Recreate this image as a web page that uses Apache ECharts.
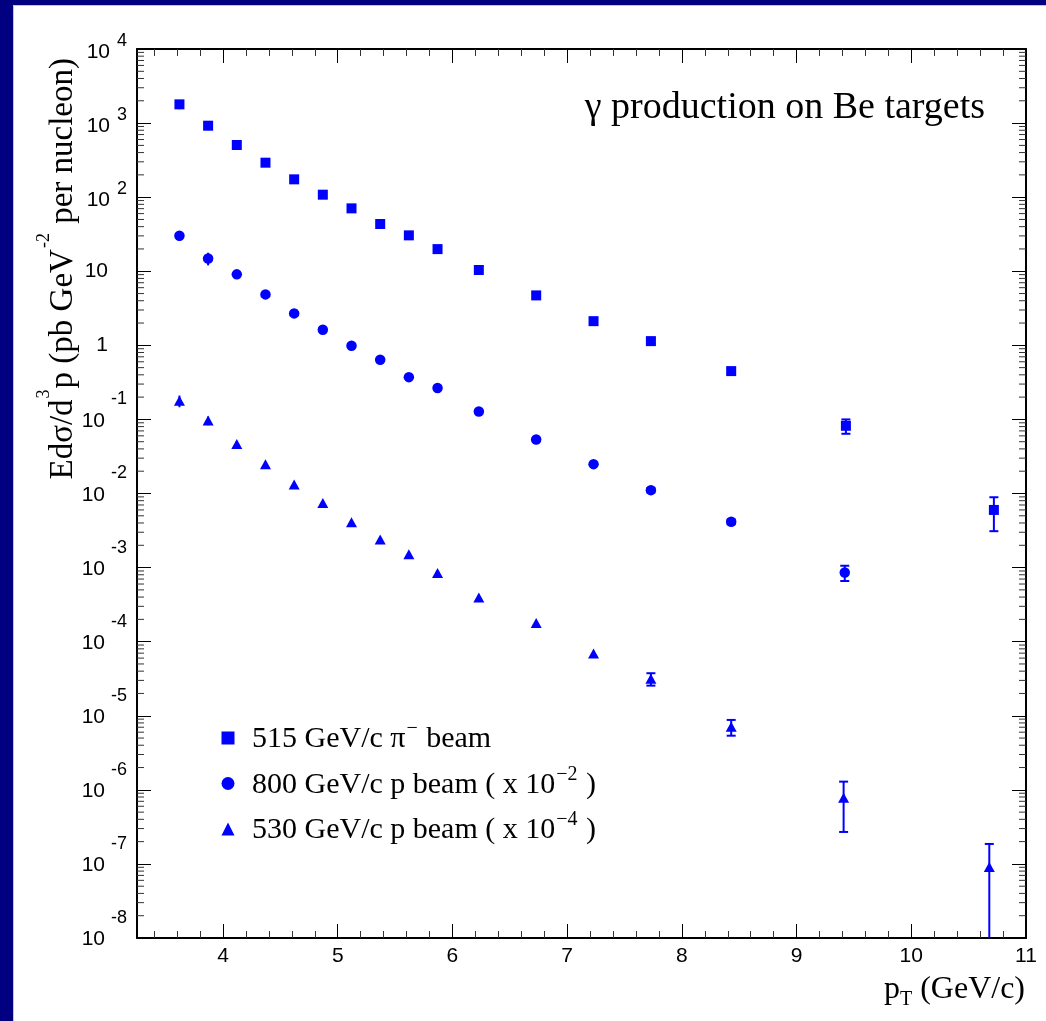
<!DOCTYPE html>
<html>
<head>
<meta charset="utf-8">
<title>γ production on Be targets</title>
<script src="https://cdn.jsdelivr.net/npm/echarts@6.0.0/dist/echarts.min.js"></script>
<style>
  html, body { margin: 0; padding: 0; width: 1046px; height: 1021px; overflow: hidden; background: #000080; }
  #frame { position: absolute; left: 13px; top: 5px; width: 1033px; height: 1016px; background: #c4c4e2; }
  #chart { position: absolute; left: 14px; top: 6px; width: 1032px; height: 1015px; background: #ffffff; }
</style>
</head>
<body>
<div id="frame"></div>
<div id="chart"></div>
<script>
// ---- measured points: pT (GeV/c), invariant cross section, symmetric error ----
const ptShared = [3.62, 3.87, 4.12, 4.37, 4.62, 4.87, 5.12, 5.37, 5.62, 5.87, 6.23, 6.73, 7.23, 7.73, 8.43];
const ptPiMinus515 = ptShared.concat([9.43, 10.72]);
const ptP800 = ptShared.concat([9.42]);
const ptP530 = ptShared.concat([9.41, 10.68]);

const xsecPiMinus515 = [1790, 922, 506, 292, 174, 108, 70.6, 43.4, 30.5, 19.9, 10.4, 4.72, 2.12, 1.14, 0.449, 0.082, 0.0060];
const errPiMinus515 = [250, 120, 60, 30, 15, 9, 5.5, 3.5, 2.4, 1.5, 0.8, 0.35, 0.16, 0.09, 0.035, 0.018, 0.0029];

const xsecP800 = [30.1, 14.9, 9.08, 4.87, 2.70, 1.62, 0.986, 0.638, 0.372, 0.265, 0.128, 0.0537, 0.0249, 0.0111, 0.00415, 0.000859];
const errP800 = [4.2, 2.9, 1.0, 0.45, 0.22, 0.12, 0.07, 0.045, 0.027, 0.018, 0.009, 0.004, 0.0018, 0.0008, 0.0003, 0.0002];

const xsecP530 = [0.178, 0.0964, 0.0467, 0.0248, 0.0132, 0.00745, 0.0041, 0.0024, 0.00151, 0.000845, 0.000395, 0.000179, 6.92e-5, 3.15e-5, 7.08e-6, 7.8e-7, 9.1e-8];
const errP530 = [0.032, 0.013, 0.004, 0.0018, 0.0009, 0.0005, 0.00028, 0.00016, 0.0001, 0.00006, 0.00003, 0.000012, 5e-6, 6e-6, 1.7e-6, 5.1e-7, 9.5e-8];

const beamLabels = ['515 GeV/c π⁻ beam', '800 GeV/c p beam ( x 10⁻² )', '530 GeV/c p beam ( x 10⁻⁴ )'];
const ptRange = [3.25, 11];        // horizontal axis limits
const decadeRange = [-8, 4];       // vertical axis limits, powers of ten

// ---- styling ----
const BLUE = '#0000ff';
const SANS = '"Liberation Sans", Arial, Helvetica, sans-serif';
const SERIF = '"Liberation Serif", "Times New Roman", Times, serif';
const CAP_FROM_PT = 7.5;           // end caps are drawn on the high-pT error bars

const chart = echarts.init(document.getElementById('chart'), null, { renderer: 'canvas' });

// minor tick values of the log axis: 2..9 x 10^d
const minorTickValues = [];
for (let d = decadeRange[0]; d < decadeRange[1]; d++) {
  for (let k = 2; k <= 9; k++) minorTickValues.push(Number((k * Math.pow(10, d)).toPrecision(3)));
}

function errorBarRenderer(params, api) {
  const cs = params.coordSys;
  const x = api.value(0), v = api.value(1), e = api.value(2);
  const top = cs.y, bottom = cs.y + cs.height;
  const c = api.coord([x, v]);
  const hiY = Math.max(api.coord([x, v + e])[1], top);
  const lo = v - e;
  const loY = lo > 0 ? Math.min(api.coord([x, lo])[1], bottom) : bottom;
  const st = { stroke: BLUE, lineWidth: 2 };
  const children = [{ type: 'line', shape: { x1: c[0], y1: hiY, x2: c[0], y2: loY }, style: st }];
  if (x >= CAP_FROM_PT) {
    if (hiY > top) children.push({ type: 'line', shape: { x1: c[0] - 4.5, y1: hiY, x2: c[0] + 4.5, y2: hiY }, style: st });
    if (loY < bottom) children.push({ type: 'line', shape: { x1: c[0] - 4.5, y1: loY, x2: c[0] + 4.5, y2: loY }, style: st });
  }
  return { type: 'group', children: children };
}

function minorTickRenderer(params, api) {
  const cs = params.coordSys;
  const y = api.coord([ptRange[0], api.value(0)])[1];
  const st = { stroke: '#333', lineWidth: 1 };
  return {
    type: 'group',
    children: [
      { type: 'line', shape: { x1: cs.x, y1: y, x2: cs.x + 7, y2: y }, style: st },
      { type: 'line', shape: { x1: cs.x + cs.width - 7, y1: y, x2: cs.x + cs.width, y2: y }, style: st }
    ]
  };
}

// legend text with superscripts as rich text
function legendRich(label) {
  return '{g|}' + label.split(/([⁻²⁴]+)/).map(function (part, i) {
    if (!part) return '';
    if (i % 2) return '{s|' + part.replace('⁻', '−').replace('²', '2').replace('⁴', '4') + '}';
    return '{n|' + part + '}';
  }).join('');
}

function decadeLabel(n) {
  if (n === 0) return '{p|1}';
  if (n === 1) return '{p|10}';
  return n < 0 ? '{bn|10}{en|' + n + '}' : '{bp|10}{ep|' + n + '}';
}

const sets = [
  { name: beamLabels[0], pt: ptPiMinus515, y: xsecPiMinus515, err: errPiMinus515, symbol: 'rect', size: 10 },
  { name: beamLabels[1], pt: ptP800, y: xsecP800, err: errP800, symbol: 'circle', size: 10.5 },
  { name: beamLabels[2], pt: ptP530, y: xsecP530, err: errP530, symbol: 'triangle', size: [11, 10] }
];

const series = [{
  type: 'custom', name: 'minor ticks', xAxisIndex: 0, yAxisIndex: 0,
  data: minorTickValues.map(function (v) { return [v]; }),
  encode: { y: 0 }, renderItem: minorTickRenderer, silent: true, z: 5, clip: false
}];
sets.forEach(function (s) {
  series.push({
    type: 'custom', name: s.name + ' errors', xAxisIndex: 0, yAxisIndex: 0,
    data: s.pt.map(function (x, i) { return [x, s.y[i], s.err[i]]; }),
    encode: { x: 0, y: 1 }, renderItem: errorBarRenderer, silent: true, z: 2, clip: false
  });
  series.push({
    type: 'scatter', name: s.name, xAxisIndex: 0, yAxisIndex: 0,
    data: s.pt.map(function (x, i) { return [x, s.y[i]]; }),
    symbol: s.symbol, symbolSize: s.size,
    itemStyle: { color: BLUE, opacity: 1 }, z: 3, silent: true
  });
});

const xAxisCommon = {
  type: 'value', min: ptRange[0], max: ptRange[1], splitNumber: 8,
  axisLine: { show: true, onZero: false, lineStyle: { color: '#000', width: 2 } },
  axisTick: { show: true, inside: true, length: 14, lineStyle: { color: '#000', width: 1 } },
  minorTick: { show: true, splitNumber: 5, length: 7, lineStyle: { color: '#333', width: 1 } },
  splitLine: { show: false }, minorSplitLine: { show: false }
};
const yDecadeCommon = {
  type: 'value', min: decadeRange[0], max: decadeRange[1], interval: 1,
  axisLine: { show: true, onZero: false, lineStyle: { color: '#000', width: 2 } },
  axisTick: { show: true, inside: true, length: 14, lineStyle: { color: '#000', width: 1 } },
  splitLine: { show: false }
};

const option = {
  animation: false,
  backgroundColor: '#ffffff',
  grid: { left: 123, top: 43, width: 889, height: 889, containLabel: false },
  xAxis: [
    Object.assign({}, xAxisCommon, {
      position: 'bottom',
      axisLabel: {
        show: true, margin: 8, color: '#000', fontFamily: SANS, fontSize: 21,
        showMinLabel: false,
        formatter: function (v) { return Number.isInteger(v) ? String(v) : ''; }
      }
    }),
    Object.assign({}, xAxisCommon, { position: 'top', axisLabel: { show: false } })
  ],
  yAxis: [
    { type: 'log', logBase: 10, min: Math.pow(10, decadeRange[0]), max: Math.pow(10, decadeRange[1]),
      position: 'left', show: false },
    Object.assign({}, yDecadeCommon, {
      position: 'left',
      axisLabel: {
        show: true, margin: 10, color: '#000', fontFamily: SANS,
        formatter: decadeLabel,
        rich: {
          p:  { fontFamily: SANS, fontSize: 21, color: '#000', padding: [0, 19, 0, 0] },
          bp: { fontFamily: SANS, fontSize: 21, color: '#000', lineHeight: 27, verticalAlign: 'bottom', padding: [0, 0, 0, 0] },
          ep: { fontFamily: SANS, fontSize: 18, color: '#000', lineHeight: 27, verticalAlign: 'bottom', padding: [0, 0, 12.5, 7] },
          bn: { fontFamily: SANS, fontSize: 21, color: '#000', lineHeight: 27, verticalAlign: 'bottom', padding: [0, 0, 1.5, 0] },
          en: { fontFamily: SANS, fontSize: 18, color: '#000', lineHeight: 27, verticalAlign: 'bottom', padding: [0, 0, 24.5, 6] }
        }
      }
    }),
    Object.assign({}, yDecadeCommon, { position: 'right', axisLabel: { show: false } })
  ],
  legend: {
    data: beamLabels, orient: 'vertical', left: 207.5, top: 713, padding: 0,
    itemWidth: 13, itemHeight: 13, itemGap: 8.5, selectedMode: false,
    symbolKeepAspect: true,
    formatter: legendRich,
    textStyle: {
      color: '#000', fontFamily: SERIF, fontSize: 30,
      rich: {
        g: { width: 12.5, lineHeight: 36 },
        n: { fontFamily: SERIF, fontSize: 30, color: '#000', lineHeight: 36, verticalAlign: 'bottom', padding: [0, 0, 1.5, 0] },
        s: { fontFamily: SERIF, fontSize: 20, color: '#000', lineHeight: 36, verticalAlign: 'bottom', padding: [0, 1, 17, 1] }
      }
    }
  },
  graphic: [
    {
      type: 'text', x: 971, y: 102.5, silent: true,
      style: { text: 'γ production on Be targets', fill: '#000', fontFamily: SERIF, fontSize: 38, align: 'right', verticalAlign: 'middle' }
    },
    {
      type: 'text', x: 49, y: 52, rotation: Math.PI / 2, silent: true,
      style: {
        text: '{n|Edσ/d}{s|3}{n|p (pb GeV}{s|-2}{n| per nucleon)}',
        align: 'right', verticalAlign: 'middle',
        rich: {
          n: { fontFamily: SERIF, fontSize: 33, fill: '#000', lineHeight: 40, verticalAlign: 'bottom', padding: [0, 0, 3.5, 0] },
          s: { fontFamily: SERIF, fontSize: 18, fill: '#000', lineHeight: 40, verticalAlign: 'bottom', padding: [0, 1, 30, 1] }
        }
      }
    },
    {
      type: 'text', x: 1011, y: 983.5, silent: true,
      style: {
        text: '{n|p}{t|T}{n| (GeV/c)}',
        align: 'right', verticalAlign: 'middle',
        rich: {
          n: { fontFamily: SERIF, fontSize: 32, fill: '#000', lineHeight: 40, verticalAlign: 'bottom', padding: [0, 0, 4, 0] },
          t: { fontFamily: SERIF, fontSize: 20, fill: '#000', lineHeight: 40, verticalAlign: 'bottom', padding: [0, 0, 0, 0] }
        }
      }
    }
  ],
  series: series
};

chart.setOption(option);
</script>
</body>
</html>
